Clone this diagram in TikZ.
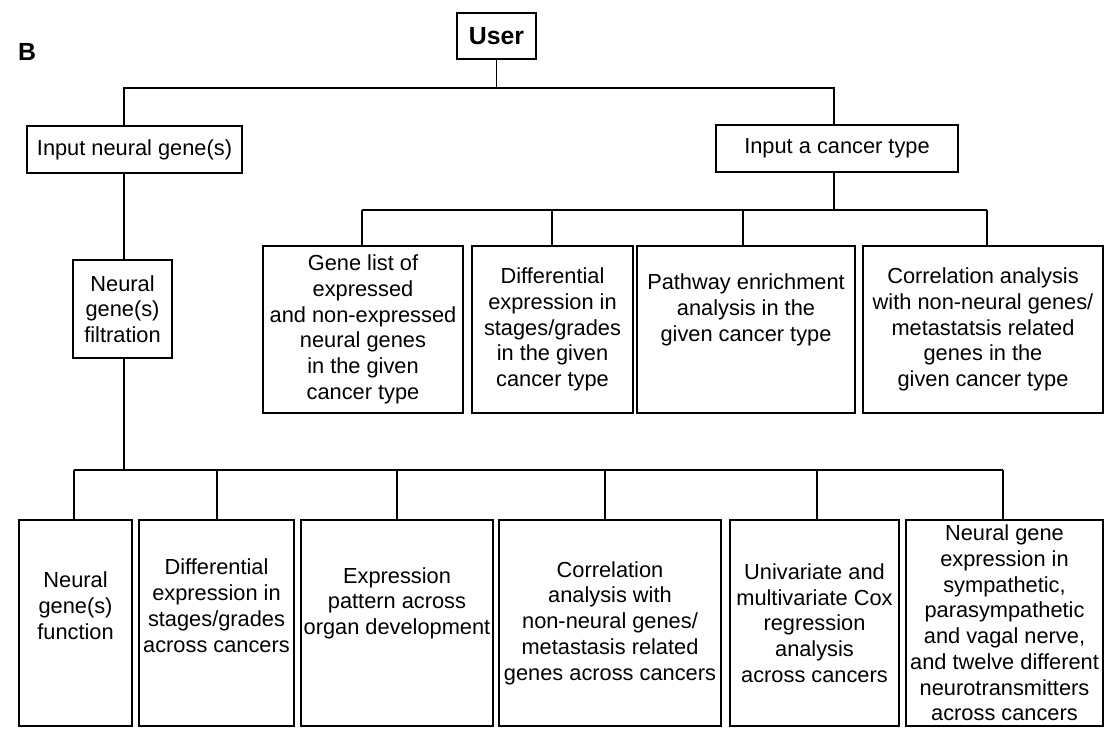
\documentclass[tikz,border=0pt]{standalone}
\usepackage{fontspec}
\setmainfont{Liberation Sans}
\tikzset{
    stage box/.style = {
        draw,
        line width=1pt,
        align=center,
        inner sep=0pt,
        font=\fontsize{10.9}{12.85}\selectfont,
        },
    box size/.style 2 args = {
        minimum width=#1*0.5pt,
        minimum height=#2*0.5pt,
        },
    title/.style = {
        font=\fontsize{12.4}{14}\selectfont\bfseries,
        },
    bus/.style = {
        draw,
        line width=0.8pt,
        },
}

\begin{document}
\begin{tikzpicture}[x=0.5pt, y=-0.5pt]
            \useasboundingbox (0,0) rectangle (1113,735);

            \node[title] (label) at (27,52) {B};
            \node[stage box, title, box size={79}{46}] (user) at (496.5,36) {User};

            % first level
            \node[stage box, box size={215}{47}] (inneural) at (134.5,149.5) {Input neural gene(s)};
            \node[stage box, box size={242}{47}] (incancer) at (837,148.5) {Input a cancer type};
            \node[stage box, box size={99}{98}] (filt) at (122.5,309) {Neural\\gene(s)\\filtration};

            % cancer type branch
            \node[stage box, box size={200}{167}] (m1) at (363,329.5) {Gene list of\\expressed\\and non-expressed\\neural genes\\in the given\\cancer type};
            \node[stage box, box size={161}{167}] (m2) at (552.5,329.5) {Differential\\expression in\\stages/grades\\in the given\\cancer type};
            \node[stage box, box size={218}{167}] (m3) at (746,329.5) {Pathway enrichment\\analysis in the\\given cancer type\\[1.6ex]};
            \node[stage box, box size={240}{167}] (m4) at (983,329.5) {Correlation analysis\\with non-neural genes/\\metastatsis related\\genes in the\\given cancer type};

            % neural gene branch
            \node[stage box, box size={113}{206}] (b1) at (75.5,623) {Neural\\gene(s)\\function\\[0.8ex]};
            \node[stage box, box size={155}{206}] (b2) at (216.5,623) {Differential\\expression in\\stages/grades\\across cancers\\[0.8ex]};
            \node[stage box, box size={192}{206}] (b3) at (397,623) {Expression\\pattern across\\organ development\\[1.6ex]};
            \node[stage box, box size={222}{206}] (b4) at (610,623) {Correlation\\analysis with\\non-neural genes/\\metastasis related\\genes across cancers};
            \node[stage box, box size={169}{206}] (b5) at (814.5,623) {Univariate and\\multivariate Cox\\regression\\analysis\\across cancers};
            \node[stage box, box size={197}{206}] (b6) at (1004.5,623) {Neural gene\\expression in\\sympathetic,\\parasympathetic\\and vagal nerve,\\and twelve different\\neurotransmitters\\across cancers};

            % connectors
            \coordinate (top bus L) at (124,88);
            \coordinate (top bus R) at (834,88);
            \coordinate (mid bus L) at (362,210);
            \coordinate (mid bus R) at (987,210);
            \coordinate (low bus L) at (74,470);
            \coordinate (low bus R) at (1003,470);

            \draw[bus] (user) -- (user |- top bus L);
            \draw[bus] (inneural.north -| top bus L) -- (top bus L) -- (top bus R) -- (incancer.north -| top bus R);
            \draw[bus] (inneural.south -| top bus L) -- (filt.north -| top bus L);
            \draw[bus] (incancer.south -| top bus R) -- (top bus R |- mid bus L);
            \draw[bus] (mid bus L) -- (mid bus R);
            \foreach \n/\x in {m1/362, m2/552, m3/743, m4/987} {
                \coordinate (drop) at (\x,210);
                \draw[bus] (drop) -- (drop |- \n.north);
            }
            \draw[bus] (filt.south -| top bus L) -- (top bus L |- low bus L);
            \draw[bus] (low bus L) -- (low bus R);
            \foreach \n/\x in {b1/74, b2/217, b3/397, b4/605, b5/817, b6/1003} {
                \coordinate (drop) at (\x,470);
                \draw[bus] (drop) -- (drop |- \n.north);
            }
        \end{tikzpicture}
\end{document}
